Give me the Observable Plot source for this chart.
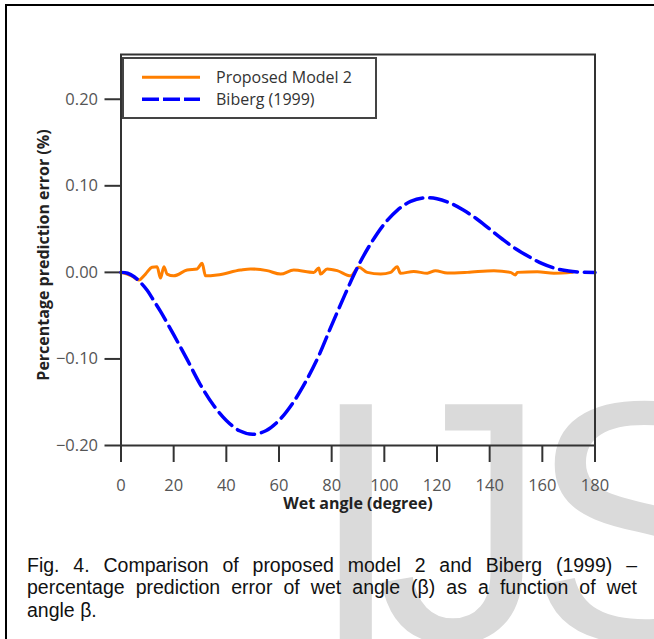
<!DOCTYPE html>
<html><head><meta charset="utf-8">
<script src="https://cdn.jsdelivr.net/npm/d3@7"></script>
<script src="https://cdn.jsdelivr.net/npm/@observablehq/plot@0.6"></script>
<style>
html,body{margin:0;padding:0;background:#fff;overflow:hidden;}
#root{position:relative;width:654px;height:639px;overflow:hidden;background:#fff;}
.wm{position:absolute;font-family:"Liberation Sans",Arial,sans-serif;font-size:344px;line-height:1;color:#dadada;z-index:0;white-space:nowrap;}
#frame{position:absolute;left:5px;top:4px;width:700px;height:700px;border-top:2px solid #000;border-left:2px solid #000;z-index:1;}
#chart{position:absolute;left:0;top:0;z-index:2;}
#legend{position:absolute;left:122px;top:57px;width:251px;height:58px;border:2px solid #444;background:#fff;z-index:3;}
#legsw{position:absolute;left:0;top:0;z-index:4;}
.legtxt{position:absolute;left:216px;font-family:"Open Sans",sans-serif;font-size:16px;color:#333;line-height:20px;z-index:4;white-space:nowrap;}
.cap{position:absolute;left:27px;width:610px;font-family:"Liberation Sans",Arial,sans-serif;font-size:19.5px;line-height:22.5px;color:#111;z-index:3;white-space:nowrap;}
.just{text-align:justify;text-align-last:justify;white-space:normal;}
</style></head><body><div id="root">
<div class="wm" style="left:308px;top:350px;">I</div>
<div class="wm" style="left:376px;top:350px;">J</div>
<div class="wm" style="left:528px;top:350px;">S</div>
<div id="frame"></div>
</div>
<script>
// ---- data ----
const xTicks = [0, 20, 40, 60, 80, 100, 120, 140, 160, 180];
const yTicks = [-0.2, -0.1, 0, 0.1, 0.2];
const seriesNames = ["Proposed Model 2", "Biberg (1999)"];

const modelAngle = [0, 4, 6.8, 9.3, 11.8, 13.7, 15.0, 16.3, 17.5, 20, 25.1, 28.9, 30.8, 32.1, 36.5, 45.4, 49.2, 55.5, 60.6, 65.6, 73.2, 75.1, 75.8, 78.3, 82.1, 87.2, 90.3, 93.5, 98.6, 102.4, 104.9, 106.1, 111.2, 116.3, 119.4, 123.9, 131.5, 141.6, 147.9, 149.8, 150.5, 158.1, 164.4, 171.4];
const modelError = [0, -0.004, -0.0088, -0.002, 0.006, 0.0066, -0.0066, 0.0066, -0.002, -0.004, 0.0027, 0.004, 0.0104, -0.004, -0.003, 0.0027, 0.004, 0.002, -0.002, 0.0027, 0, 0.005, -0.002, 0.004, 0.002, -0.004, 0.006, 0, -0.002, 0, 0.0066, -0.001, 0.001, -0.001, 0.002, -0.0008, 0, 0.002, 0, -0.003, 0, 0.0008, -0.001, 0];

const bibergAngle = [0, 2.5, 5, 7.5, 10, 12.5, 15, 20, 25, 30, 35, 40, 45, 50, 55, 60, 65, 70, 75, 80, 85, 90, 95, 100, 105, 110, 115, 120, 125, 130, 135, 140, 145, 150, 155, 160, 165, 170, 175, 180];
const bibergError = [0, -0.001, -0.005, -0.012, -0.021, -0.033, -0.045, -0.072, -0.100, -0.129, -0.153, -0.171, -0.183, -0.187, -0.183, -0.171, -0.152, -0.127, -0.097, -0.061, -0.026, 0.007, 0.034, 0.056, 0.072, 0.082, 0.086, 0.085, 0.080, 0.072, 0.062, 0.050, 0.038, 0.027, 0.018, 0.010, 0.0045, 0.0015, 0.0003, 0];

const colors = ["#ff7f00", "#0000ff"];

// ---- build ----
const model = modelAngle.map((a, i) => ({angle: a, error: modelError[i]}));
const biberg = bibergAngle.map((a, i) => ({angle: a, error: bibergError[i]}));
const fmt = d => (d < 0 ? "\u2212" : "") + Math.abs(d).toFixed(2);

const chart = Plot.plot({
  width: 654, height: 530,
  marginLeft: 120.5, marginRight: 59.5, marginTop: 54, marginBottom: 85,
  style: {fontFamily: "'Open Sans', sans-serif", fontSize: "16px", background: "transparent", overflow: "visible"},
  x: {domain: [0, 180]},
  y: {domain: [-0.2, 0.2517]},
  marks: [
    Plot.axisX({ticks: xTicks, tickSize: 17, tickPadding: 17, stroke: "#333", strokeWidth: 2, fill: "#555", label: null, fontSize: 16.5}),
    Plot.axisY({ticks: yTicks, tickSize: 16, tickPadding: 7, tickFormat: fmt, stroke: "#333", strokeWidth: 2, fill: "#555", label: null, fontSize: 16.5}),
    Plot.line(model, {x: "angle", y: "error", stroke: colors[0], strokeWidth: 3, curve: "monotone-x"}),
    Plot.line(biberg, {x: "angle", y: "error", stroke: colors[1], strokeWidth: 3.5, strokeDasharray: "18,7", curve: "catmull-rom"}),
    Plot.frame({stroke: "#333", strokeWidth: 2}),
    Plot.text(["Wet angle (degree)"], {frameAnchor: "bottom", dy: 63, fontWeight: "bold", fill: "#222", fontSize: 16}),
    Plot.text(["Percentage prediction error (%)"], {frameAnchor: "left", textAnchor: "middle", dx: -77, dy: 5, rotate: -90, fontWeight: "bold", fill: "#222", fontSize: 16})
  ]
});
chart.id = "chart";
const root = document.getElementById("root");
root.appendChild(chart);

// legend
const leg = document.createElement("div");
leg.id = "legend";
root.appendChild(leg);
const ns = "http://www.w3.org/2000/svg";
const sw = document.createElementNS(ns, "svg");
sw.setAttribute("id", "legsw");
sw.setAttribute("width", 654); sw.setAttribute("height", 140);
const ly = [77.3, 99.3];
seriesNames.forEach((name, i) => {
  const ln = document.createElementNS(ns, "line");
  ln.setAttribute("x1", 142); ln.setAttribute("x2", 200);
  ln.setAttribute("y1", ly[i]); ln.setAttribute("y2", ly[i]);
  ln.setAttribute("stroke", colors[i]); ln.setAttribute("stroke-width", i ? 3.5 : 3);
  if (i) ln.setAttribute("stroke-dasharray", "17,4");
  sw.appendChild(ln);
  const t = document.createElement("div");
  t.className = "legtxt";
  t.style.top = (ly[i] - 10) + "px";
  t.textContent = name;
  root.appendChild(t);
});
root.appendChild(sw);

// caption
const capLines = [
  "Fig. 4. Comparison of proposed model 2 and Biberg (1999) \u2013",
  "percentage prediction error of wet angle (\u03b2) as a function of wet",
  "angle \u03b2."
];
capLines.forEach((s, i) => {
  const d = document.createElement("div");
  d.className = "cap" + (i < 2 ? " just" : "");
  d.style.top = (553.7 + i * 22.5) + "px";
  d.textContent = s;
  root.appendChild(d);
});
</script>
</body></html>
